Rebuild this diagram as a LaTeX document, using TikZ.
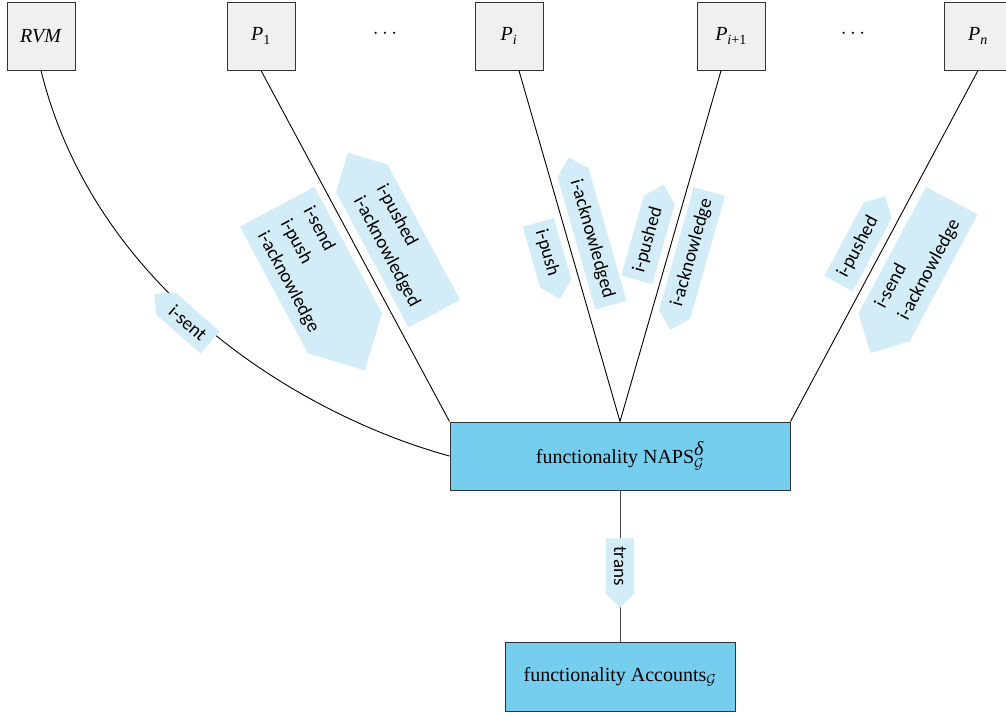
\documentclass[tikz,border=0pt]{standalone}
\usepackage{fontspec}
\setmainfont{Liberation Serif}
\newfontfamily\labelfont{Carlito}
\usetikzlibrary{shapes.symbols}
\definecolor{funcblue}{HTML}{76CEEF}
\definecolor{msgblue}{HTML}{D3EDF8}
\definecolor{partygray}{HTML}{F0F0F0}
\definecolor{frame}{HTML}{333333}
\newcommand{\party}[1]{\textit{P}\textsubscript{#1}}
\tikzset{
  party/.style={draw=frame, fill=partygray, minimum width=68pt, minimum height=68pt, inner sep=0pt, line width=1pt, font=\fontsize{20}{24}\selectfont},
  func/.style={draw=frame, fill=funcblue, line width=1pt, inner sep=0pt, font=\fontsize{20}{24}\selectfont},
  msg/.style={signal, fill=msgblue, inner xsep=8pt, inner ysep=8pt, align=left, font=\labelfont\fontsize{19}{26}\selectfont},
  multimsg/.style={msg, inner xsep=16pt},
  conn/.style={draw=black, line width=0.9pt},
  dotsnode/.style={font=\fontsize{20}{24}\selectfont}
}
\begin{document}
\begin{tikzpicture}[x=1pt,y=-1pt]
\useasboundingbox (0,0) rectangle (1006,715);
% parties
\node[party] (RVM) at (41,36) {\textit{RVM}};
\node[party] (P1) at (261,36) {\party{1}};
\node[dotsnode] (d1) at (385,34) {$\cdots$};
\node[party] (Pi) at (509,36) {\party{\textit{i}}};
\node[party] (Pi1) at (731,36) {\party{\textit{i}+1}};
\node[dotsnode] (d2) at (853,34) {$\cdots$};
\node[party] (Pn) at (978,36) {\party{\textit{n}}};
% functionalities
\node[func, minimum width=340pt, minimum height=68pt] (NAPS) at (620,456) {functionality NAPS$^{\textit{δ}}_{\mathcal{G}}$};
\node[func, minimum width=230pt, minimum height=69pt] (Acc) at (620,677) {functionality Accounts$_{\mathcal{G}}$};
% connectors
\draw[conn] (RVM.south) .. controls (95,290) and (300,415) .. (NAPS.west);
\draw[conn] (P1.south) -- (NAPS.north west);
\draw[conn] (Pi) -- (NAPS.north);
\draw[conn] (Pi1) -- (NAPS.north);
\draw[conn] (Pn.south) -- (NAPS.north east);
\draw[conn, draw=black!70] (NAPS.south) -- (Acc.north);
% message labels
\node[msg, rotate=-41, signal to=west] (mSent) at (188,323) {i-sent};
\node[multimsg, rotate=-61.8, signal to=east] (mP1a) at (311,270) {i-send\\i-push\\i-acknowledge};
\node[multimsg, rotate=-61.8, signal to=west] (mP1b) at (398,246) {i-pushed\\i-acknowledged};
\node[msg, rotate=-74, signal to=east] (mPia) at (547,253) {i-push};
\node[msg, rotate=-74, signal to=west] (mPib) at (592,239) {i-acknowledged};
\node[msg, rotate=74.2, signal to=east] (mPja) at (648,240) {i-pushed};
\node[msg, rotate=74.2, signal to=west] (mPjb) at (692,253) {i-acknowledge};
\node[msg, rotate=61.9, signal to=east] (mPna) at (858,247) {i-pushed};
\node[multimsg, rotate=61.9, signal to=west] (mPnb) at (918,264) {i-send\\i-acknowledge};
\node[msg, rotate=-90, signal to=east] (mTrans) at (620,566) {trans};
\end{tikzpicture}
\end{document}
